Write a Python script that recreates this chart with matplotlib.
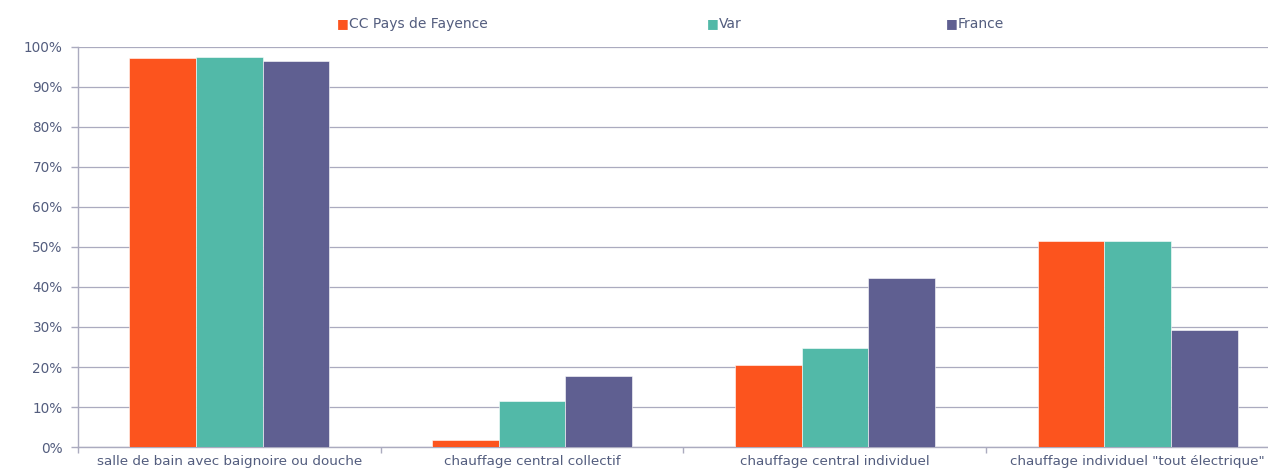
import numpy as np
import matplotlib.pyplot as plt
from matplotlib.ticker import FuncFormatter

# --- Données ---
categories = [
    "salle de bain avec baignoire ou douche",
    "chauffage central collectif",
    "chauffage central individuel",
    'chauffage individuel "tout électrique"',
]
series = ["CC Pays de Fayence", "Var", "France"]
cc_fayence = [97.3, 1.7, 20.5, 51.4]
var = [97.5, 11.4, 24.7, 51.6]
france = [96.6, 17.8, 42.2, 29.3]

couleurs = ["#FC541E", "#52B9A8", "#5F5F91"]
texte = "#535D7E"
grille = "#ABABBF"

fig = plt.figure(figsize=(12.68, 4.73), dpi=100)
ax = fig.add_axes([78 / 1268, 26 / 473, 1211 / 1268, 400 / 473])

x = np.arange(len(categories))
largeur = 0.22
for i, (valeurs, c) in enumerate(zip([cc_fayence, var, france], couleurs)):
    ax.bar(x + (i - 1) * largeur, valeurs, largeur, color=c,
           edgecolor="white", linewidth=0.4, zorder=3)

ax.set_xlim(-0.5, len(categories) - 0.5)
ax.set_ylim(0, 100)
ax.set_yticks(np.arange(0, 101, 10))
ax.yaxis.set_major_formatter(FuncFormatter(lambda v, p: f"{v:.0f}%"))
ax.grid(axis="y", color=grille, linewidth=0.9, zorder=0)

# graduations aux limites des catégories, libellés centrés
ax.set_xticks(np.arange(-0.5, len(categories), 1))
ax.set_xticklabels([])
ax.set_xticks(x, minor=True)
ax.set_xticklabels(categories, minor=True)
ax.tick_params(axis="x", which="major", length=4, color=grille, width=1)
ax.tick_params(axis="x", which="minor", length=0, pad=6, labelsize=9.7,
               labelcolor=texte)
ax.tick_params(axis="y", length=5, color=grille, width=1, labelsize=9.8,
               labelcolor=texte, pad=6)

for s in ["top", "right"]:
    ax.spines[s].set_visible(False)
for s in ["left", "bottom"]:
    ax.spines[s].set_color(grille)
    ax.spines[s].set_linewidth(1)

# --- Légende manuelle ---
pos_legende = [343, 713, 952]
for nom, c, px in zip(series, couleurs, pos_legende):
    fig.text(px / 1268, 1 - 24 / 473, "■", color=c, fontsize=9,
             va="center", ha="center")
    fig.text((px + 6) / 1268, 1 - 24 / 473, nom, color=texte, fontsize=10,
             va="center", ha="left")

plt.savefig("out.png", dpi=100)
